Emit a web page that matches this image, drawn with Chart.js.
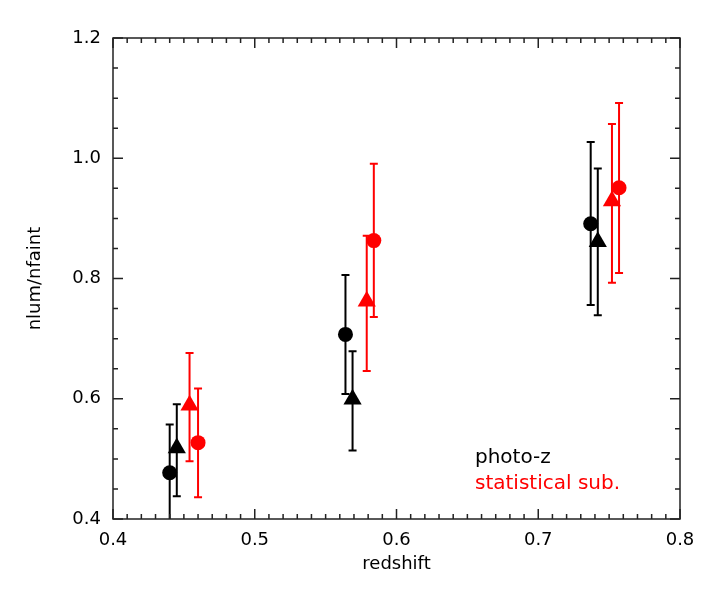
<!DOCTYPE html>
<html>
<head>
<meta charset="utf-8">
<script src="https://cdn.jsdelivr.net/npm/chart.js@4/dist/chart.umd.min.js"></script>
<style>
	html, body { margin: 0; padding: 0; background: #fff; }
	#wrap { width: 709px; height: 591px; }
</style>
</head>
<body>
<div id="wrap"><canvas id="plot"></canvas></div>
<script>
// photo-z, circles
var photoCircZ = [0.44, 0.564, 0.737];
var photoCirc = [0.477, 0.707, 0.891];
var photoCircLo = [0.39, 0.608, 0.756];
var photoCircHi = [0.557, 0.806, 1.027];

// photo-z, triangles
var photoTriZ = [0.445, 0.569, 0.742];
var photoTri = [0.518, 0.599, 0.861];
var photoTriLo = [0.438, 0.514, 0.739];
var photoTriHi = [0.591, 0.679, 0.983];

// statistical sub., triangles
var statTriZ = [0.454, 0.579, 0.752];
var statTri = [0.589, 0.762, 0.929];
var statTriLo = [0.496, 0.646, 0.793];
var statTriHi = [0.676, 0.871, 1.057];

// statistical sub., circles
var statCircZ = [0.46, 0.584, 0.757];
var statCirc = [0.527, 0.863, 0.951];
var statCircLo = [0.436, 0.736, 0.809];
var statCircHi = [0.617, 0.991, 1.092];

var xMin = 0.4, xMax = 0.8;
var yMin = 0.4, yMax = 1.2;
var legendLabels = ["photo-z", "statistical sub."];

var FONT = "'DejaVu Sans', sans-serif";

function points(xs, ys, lo, hi) {
	var out = [];
	xs.forEach((x, i) => {
		out.push({ x: x, y: ys[i], lo: lo[i], hi: hi[i] });
	});
	return out;
}

function makeSet(label, xs, ys, lo, hi, color, style, radius) {
	return {
		label: label,
		data: points(xs, ys, lo, hi),
		pointStyle: style,
		pointRadius: radius,
		pointBackgroundColor: color,
		pointBorderColor: color,
		pointBorderWidth: 0,
		showLine: false,
		errColor: color
	};
}

// error bars + IDL style frame with inward ticks
const idlPlot = {
	id: "idlPlot",
	beforeDatasetsDraw(chart) {
		const ctx = chart.ctx;
		const a = chart.chartArea;
		const ys = chart.scales.y;
		ctx.save();
		ctx.beginPath();
		ctx.rect(a.left, a.top, a.right - a.left, a.bottom - a.top);
		ctx.clip();
		chart.data.datasets.forEach((ds, di) => {
			const meta = chart.getDatasetMeta(di);
			ctx.strokeStyle = ds.errColor;
			ctx.lineWidth = 2;
			ds.data.forEach((p, i) => {
				const px = meta.data[i].x;
				const yl = ys.getPixelForValue(p.lo);
				const yh = ys.getPixelForValue(p.hi);
				ctx.beginPath();
				ctx.moveTo(px, yl);
				ctx.lineTo(px, yh);
				ctx.moveTo(px - 4, yl);
				ctx.lineTo(px + 4, yl);
				ctx.moveTo(px - 4, yh);
				ctx.lineTo(px + 4, yh);
				ctx.stroke();
			});
		});
		ctx.restore();
	},
	afterDraw(chart) {
		const ctx = chart.ctx;
		const a = chart.chartArea;
		const xs = chart.scales.x;
		const ys = chart.scales.y;
		ctx.save();
		ctx.strokeStyle = "#222";
		ctx.lineWidth = 1.5;
		ctx.strokeRect(a.left, a.top, a.right - a.left, a.bottom - a.top);

		ctx.beginPath();
		for (let i = 0; i <= 40; i++) {
			const px = xs.getPixelForValue(xMin + i * 0.01);
			const len = (i % 10 === 0) ? 10 : 5;
			ctx.moveTo(px, a.bottom);
			ctx.lineTo(px, a.bottom - len);
			ctx.moveTo(px, a.top);
			ctx.lineTo(px, a.top + len);
		}
		for (let i = 0; i <= 16; i++) {
			const py = ys.getPixelForValue(yMin + i * 0.05);
			const len = (i % 4 === 0) ? 10 : 5;
			ctx.moveTo(a.left, py);
			ctx.lineTo(a.left + len, py);
			ctx.moveTo(a.right, py);
			ctx.lineTo(a.right - len, py);
		}
		ctx.stroke();

		ctx.font = "20px " + FONT;
		ctx.textAlign = "left";
		ctx.textBaseline = "alphabetic";
		ctx.fillStyle = "#000";
		ctx.fillText(legendLabels[0], 475, 463);
		ctx.fillStyle = "#ff0000";
		ctx.fillText(legendLabels[1], 475, 489);
		ctx.restore();
	}
};

const plotX = document.getElementById("plot");

new Chart(plotX, {
	type: "scatter",
	data: {
		datasets: [
			makeSet("photo-z circ", photoCircZ, photoCirc, photoCircLo, photoCircHi, "#000", "circle", 7.5),
			makeSet("photo-z tri", photoTriZ, photoTri, photoTriLo, photoTriHi, "#000", "triangle", 10.5),
			makeSet("stat tri", statTriZ, statTri, statTriLo, statTriHi, "#ff0000", "triangle", 10.5),
			makeSet("stat circ", statCircZ, statCirc, statCircLo, statCircHi, "#ff0000", "circle", 7.5)
		]
	},
	options: {
		responsive: true,
		maintainAspectRatio: false,
		animation: false,
		layout: {
			padding: { left: 0, top: 38, right: 29, bottom: 0 }
		},
		plugins: {
			legend: { display: false },
			tooltip: { enabled: false }
		},
		scales: {
			x: {
				type: "linear",
				min: xMin,
				max: xMax,
				grid: { display: false, drawTicks: false },
				border: { display: false },
				ticks: {
					stepSize: 0.1,
					padding: 11,
					color: "#000",
					font: { family: FONT, size: 18 },
					callback: v => v.toFixed(1)
				},
				title: {
					display: true,
					text: "redshift",
					color: "#000",
					font: { family: FONT, size: 18 },
					padding: { top: 0, bottom: 16 }
				},
				afterFit: s => { s.height = 72; }
			},
			y: {
				type: "linear",
				min: yMin,
				max: yMax,
				grid: { display: false, drawTicks: false },
				border: { display: false },
				ticks: {
					stepSize: 0.2,
					padding: 12,
					color: "#000",
					font: { family: FONT, size: 18 },
					callback: v => v.toFixed(1)
				},
				title: {
					display: true,
					text: "nlum/nfaint",
					color: "#000",
					font: { family: FONT, size: 18 },
					padding: { top: 25, bottom: 0 }
				},
				afterFit: s => { s.width = 113; }
			}
		}
	},
	plugins: [idlPlot]
});
</script>
</body>
</html>
